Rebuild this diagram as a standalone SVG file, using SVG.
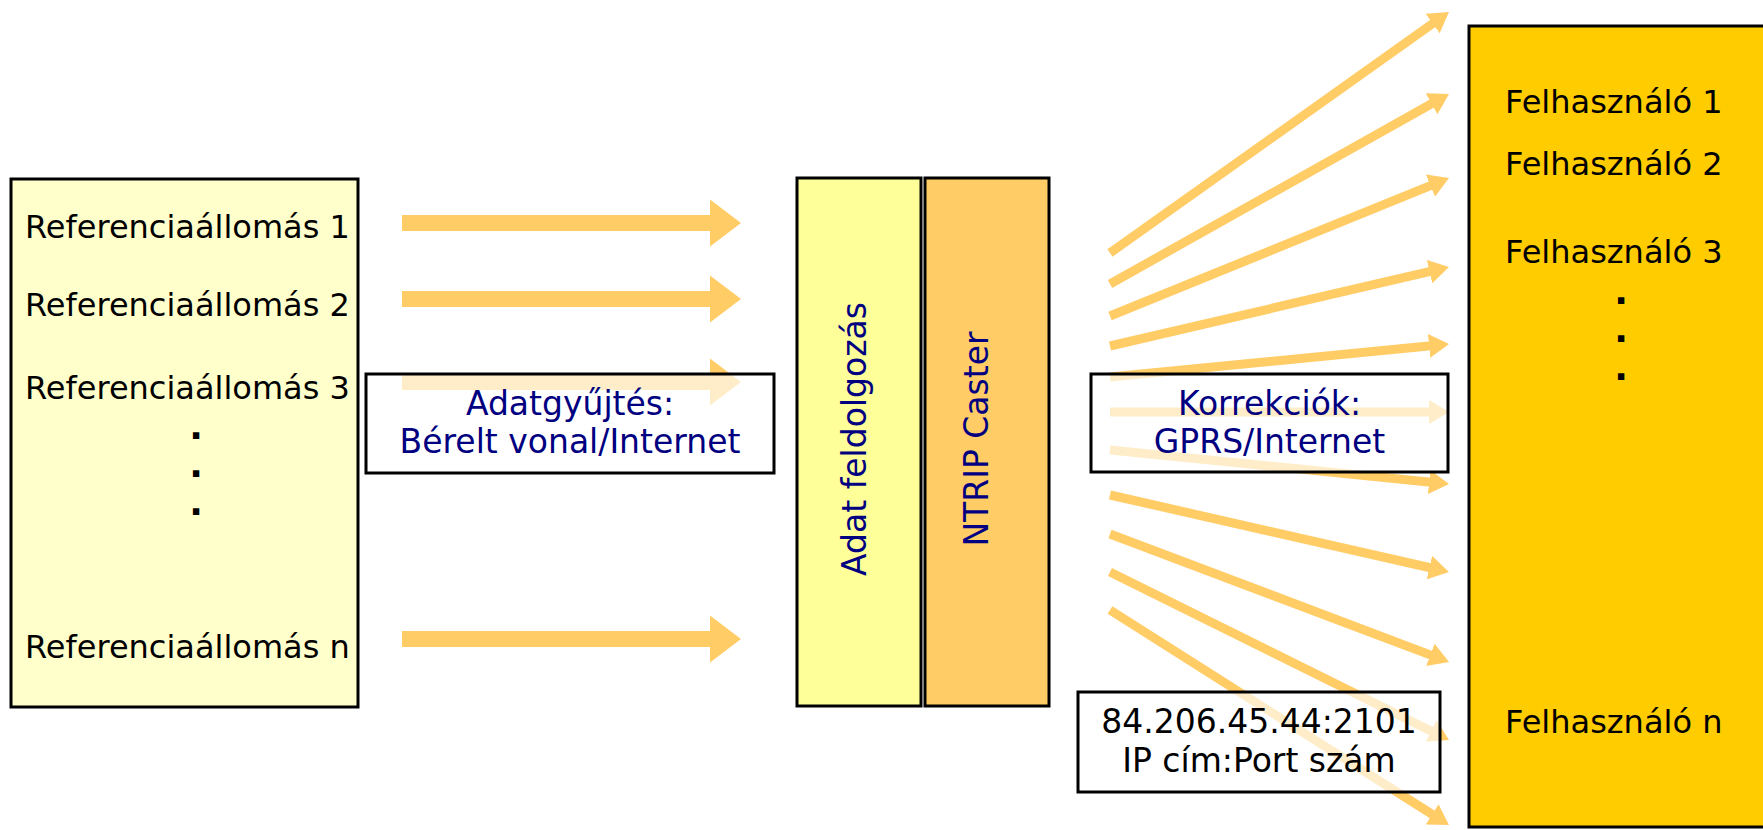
<svg xmlns="http://www.w3.org/2000/svg" width="1763" height="830" viewBox="0 0 1763 830">
<style>
text{font-family:"DejaVu Sans",Verdana,sans-serif;font-size:32px}
.box{stroke:#000;stroke-width:3}
.blk{fill:#000}
.nv{fill:#000080;font-size:33px}
.lt{font-size:33px}
.dot{font-weight:bold;font-size:36px}
.lbl{fill:#fff;fill-opacity:0.65;stroke:#000;stroke-width:3}
.fan{stroke:#FFCC66;stroke-width:9;fill:none;marker-end:url(#ah)}
.blockarrow{fill:#FFCC66}
</style>
<defs>
<marker id="ah" markerUnits="userSpaceOnUse" markerWidth="20" markerHeight="24" refX="2" refY="12" orient="auto">
<path d="M0,0 L20,12 L0,24 z" fill="#FFCC66"/>
</marker>
</defs>
<rect width="1763" height="830" fill="#fff"/>

<g id="stations">
<rect class="box" x="11" y="179" width="347" height="528" fill="#FFFFCC"/>
<text class="blk" x="25" y="238">Referenciaállomás 1</text>
<text class="blk" x="25" y="316">Referenciaállomás 2</text>
<text class="blk" x="25" y="399">Referenciaállomás 3</text>
<text class="blk dot" x="196" y="439" text-anchor="middle">.</text>
<text class="blk dot" x="196" y="477" text-anchor="middle">.</text>
<text class="blk dot" x="196" y="515" text-anchor="middle">.</text>
<text class="blk" x="25" y="658">Referenciaállomás n</text>
</g>

<g id="adat-feldolgozas">
<rect class="box" x="797" y="178" width="124" height="528" fill="#FFFF99"/>
<text class="nv" transform="translate(866,439) rotate(-90)" text-anchor="middle">Adat feldolgozás</text>
</g>

<g id="ntrip-caster">
<rect class="box" x="925" y="178" width="124" height="528" fill="#FFCC66"/>
<text class="nv" transform="translate(988,439) rotate(-90)" text-anchor="middle">NTRIP Caster</text>
</g>

<g id="users">
<rect class="box" x="1469" y="26" width="310" height="801" fill="#FFCC00"/>
<text class="blk" x="1505" y="113">Felhasználó 1</text>
<text class="blk" x="1505" y="175">Felhasználó 2</text>
<text class="blk" x="1505" y="263">Felhasználó 3</text>
<text class="blk dot" x="1621" y="304" text-anchor="middle">.</text>
<text class="blk dot" x="1621" y="342" text-anchor="middle">.</text>
<text class="blk dot" x="1621" y="380" text-anchor="middle">.</text>
<text class="blk" x="1505" y="733">Felhasználó n</text>
</g>

<g id="connectors">
<path class="blockarrow" d="M402,215 H710 V199.5 L741,223 L710,246.5 V231 H402 Z"/>
<path class="blockarrow" d="M402,291 H710 V275.5 L741,299 L710,322.5 V307 H402 Z"/>
<path class="blockarrow" d="M402,374 H710 V358.5 L741,382 L710,405.5 V390 H402 Z"/>
<path class="blockarrow" d="M402,631 H710 V615.5 L741,639 L710,662.5 V647 H402 Z"/>
<line class="fan" x1="1110" y1="253" x2="1434.3" y2="22.4"/>
<line class="fan" x1="1110" y1="284" x2="1433.3" y2="102.8"/>
<line class="fan" x1="1110" y1="316" x2="1432.3" y2="184.8"/>
<line class="fan" x1="1110" y1="346" x2="1431.5" y2="271.1"/>
<line class="fan" x1="1110" y1="377" x2="1431.1" y2="345.7"/>
<line class="fan" x1="1110" y1="412" x2="1431" y2="412"/>
<line class="fan" x1="1110" y1="450" x2="1431.1" y2="482.2"/>
<line class="fan" x1="1110" y1="495" x2="1431.4" y2="568"/>
<line class="fan" x1="1110" y1="534" x2="1432.2" y2="655.6"/>
<line class="fan" x1="1110" y1="572" x2="1432.9" y2="732"/>
<line class="fan" x1="1110" y1="610" x2="1433.8" y2="815.4"/>
</g>

<g id="adatgyujtes-label">
<rect class="lbl" x="366" y="374" width="408" height="99"/>
<text class="nv" x="570" y="415" text-anchor="middle">Adatgyűjtés:</text>
<text class="nv" x="570" y="453" text-anchor="middle">Bérelt vonal/Internet</text>
</g>

<g id="korrekciok-label">
<rect class="lbl" x="1091" y="374" width="357" height="98"/>
<text class="nv" x="1269.5" y="415" text-anchor="middle">Korrekciók:</text>
<text class="nv" x="1269.5" y="453" text-anchor="middle">GPRS/Internet</text>
</g>

<g id="ip-label">
<rect class="lbl" x="1078" y="692" width="362" height="100"/>
<text class="blk lt" x="1259" y="733" text-anchor="middle">84.206.45.44:2101</text>
<text class="blk lt" x="1259" y="772" text-anchor="middle">IP cím:Port szám</text>
</g>
</svg>
